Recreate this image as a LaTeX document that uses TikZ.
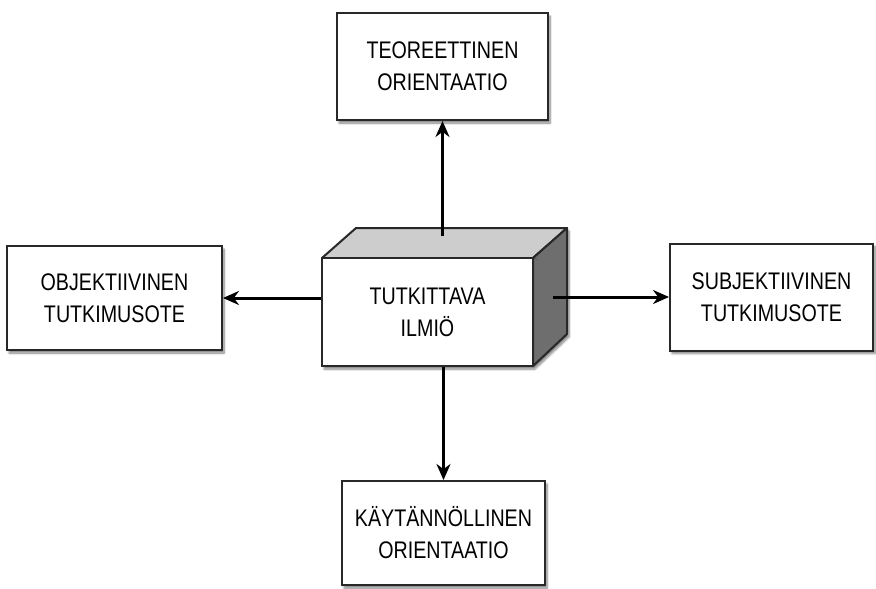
\documentclass[tikz,border=0pt]{standalone}
\usepackage{fontspec}
\setmainfont{Liberation Sans}[FakeStretch=0.82]
\usepackage{tikz}
\usetikzlibrary{arrows.meta,shadows.blur}
\definecolor{boxedge}{RGB}{40, 40, 40}
\definecolor{topgray}{RGB}{205, 205, 205}
\definecolor{sidegray}{RGB}{110, 110, 110}

\begin{document}
\begin{tikzpicture}[x = 1pt, y = -1pt,
		box/.style = {rectangle, draw = boxedge, line width = 2pt, fill = white, align = center,
			font = \fontsize{24}{32}\selectfont,
			blur shadow = {shadow xshift = 2pt, shadow yshift = -3pt, shadow blur steps = 8, shadow opacity = 50}},
		arr/.style = {line width = 3pt, -{Stealth[length = 16pt, width = 14pt]}}]
			\useasboundingbox (0,0) rectangle (876,589);
			\node (teo) at (442.5,66.5) [box, minimum width = 211pt, minimum height = 107pt] {TEOREETTINEN\\ORIENTAATIO};
			\node (obj) at (114.5,298) [box, minimum width = 215pt, minimum height = 104pt] {OBJEKTIIVINEN\\TUTKIMUSOTE};
			\node (subj) at (771.5,297) [box, minimum width = 203pt, minimum height = 107pt] {SUBJEKTIIVINEN\\TUTKIMUSOTE};
			\node (kay) at (443.5,533) [box, minimum width = 203pt, minimum height = 104pt] {KÄYTÄNNÖLLINEN\\ORIENTAATIO};
			% the box in the middle
			\path[fill = white, blur shadow = {shadow xshift = 2pt, shadow yshift = -3pt, shadow blur steps = 8, shadow opacity = 50}]
				(322,258) -- (356,228) -- (567,228) -- (567,334) -- (533,366) -- (322,366) -- cycle;
			\draw[fill = topgray, draw = boxedge, line width = 2pt, line join = round] (322,258) -- (356,228) -- (567,228) -- (533,258) -- cycle;
			\draw[fill = sidegray, draw = boxedge, line width = 2pt, line join = round] (533,258) -- (567,228) -- (567,334) -- (533,366) -- cycle;
			\node (ilmio) at (427.5,312) [box, minimum width = 211pt, minimum height = 108pt, blur shadow = {shadow opacity = 0}] {TUTKITTAVA\\ILMIÖ};
			\draw[arr] (teo.south |- 0,236) -- (teo.south);
			\draw[arr] (obj.east -| ilmio.west) -- (obj.east);
			\draw[arr] (553,297) -- (subj.west);
			\draw[arr] (kay.north |- ilmio.south) -- (kay.north);
\end{tikzpicture}
\end{document}
